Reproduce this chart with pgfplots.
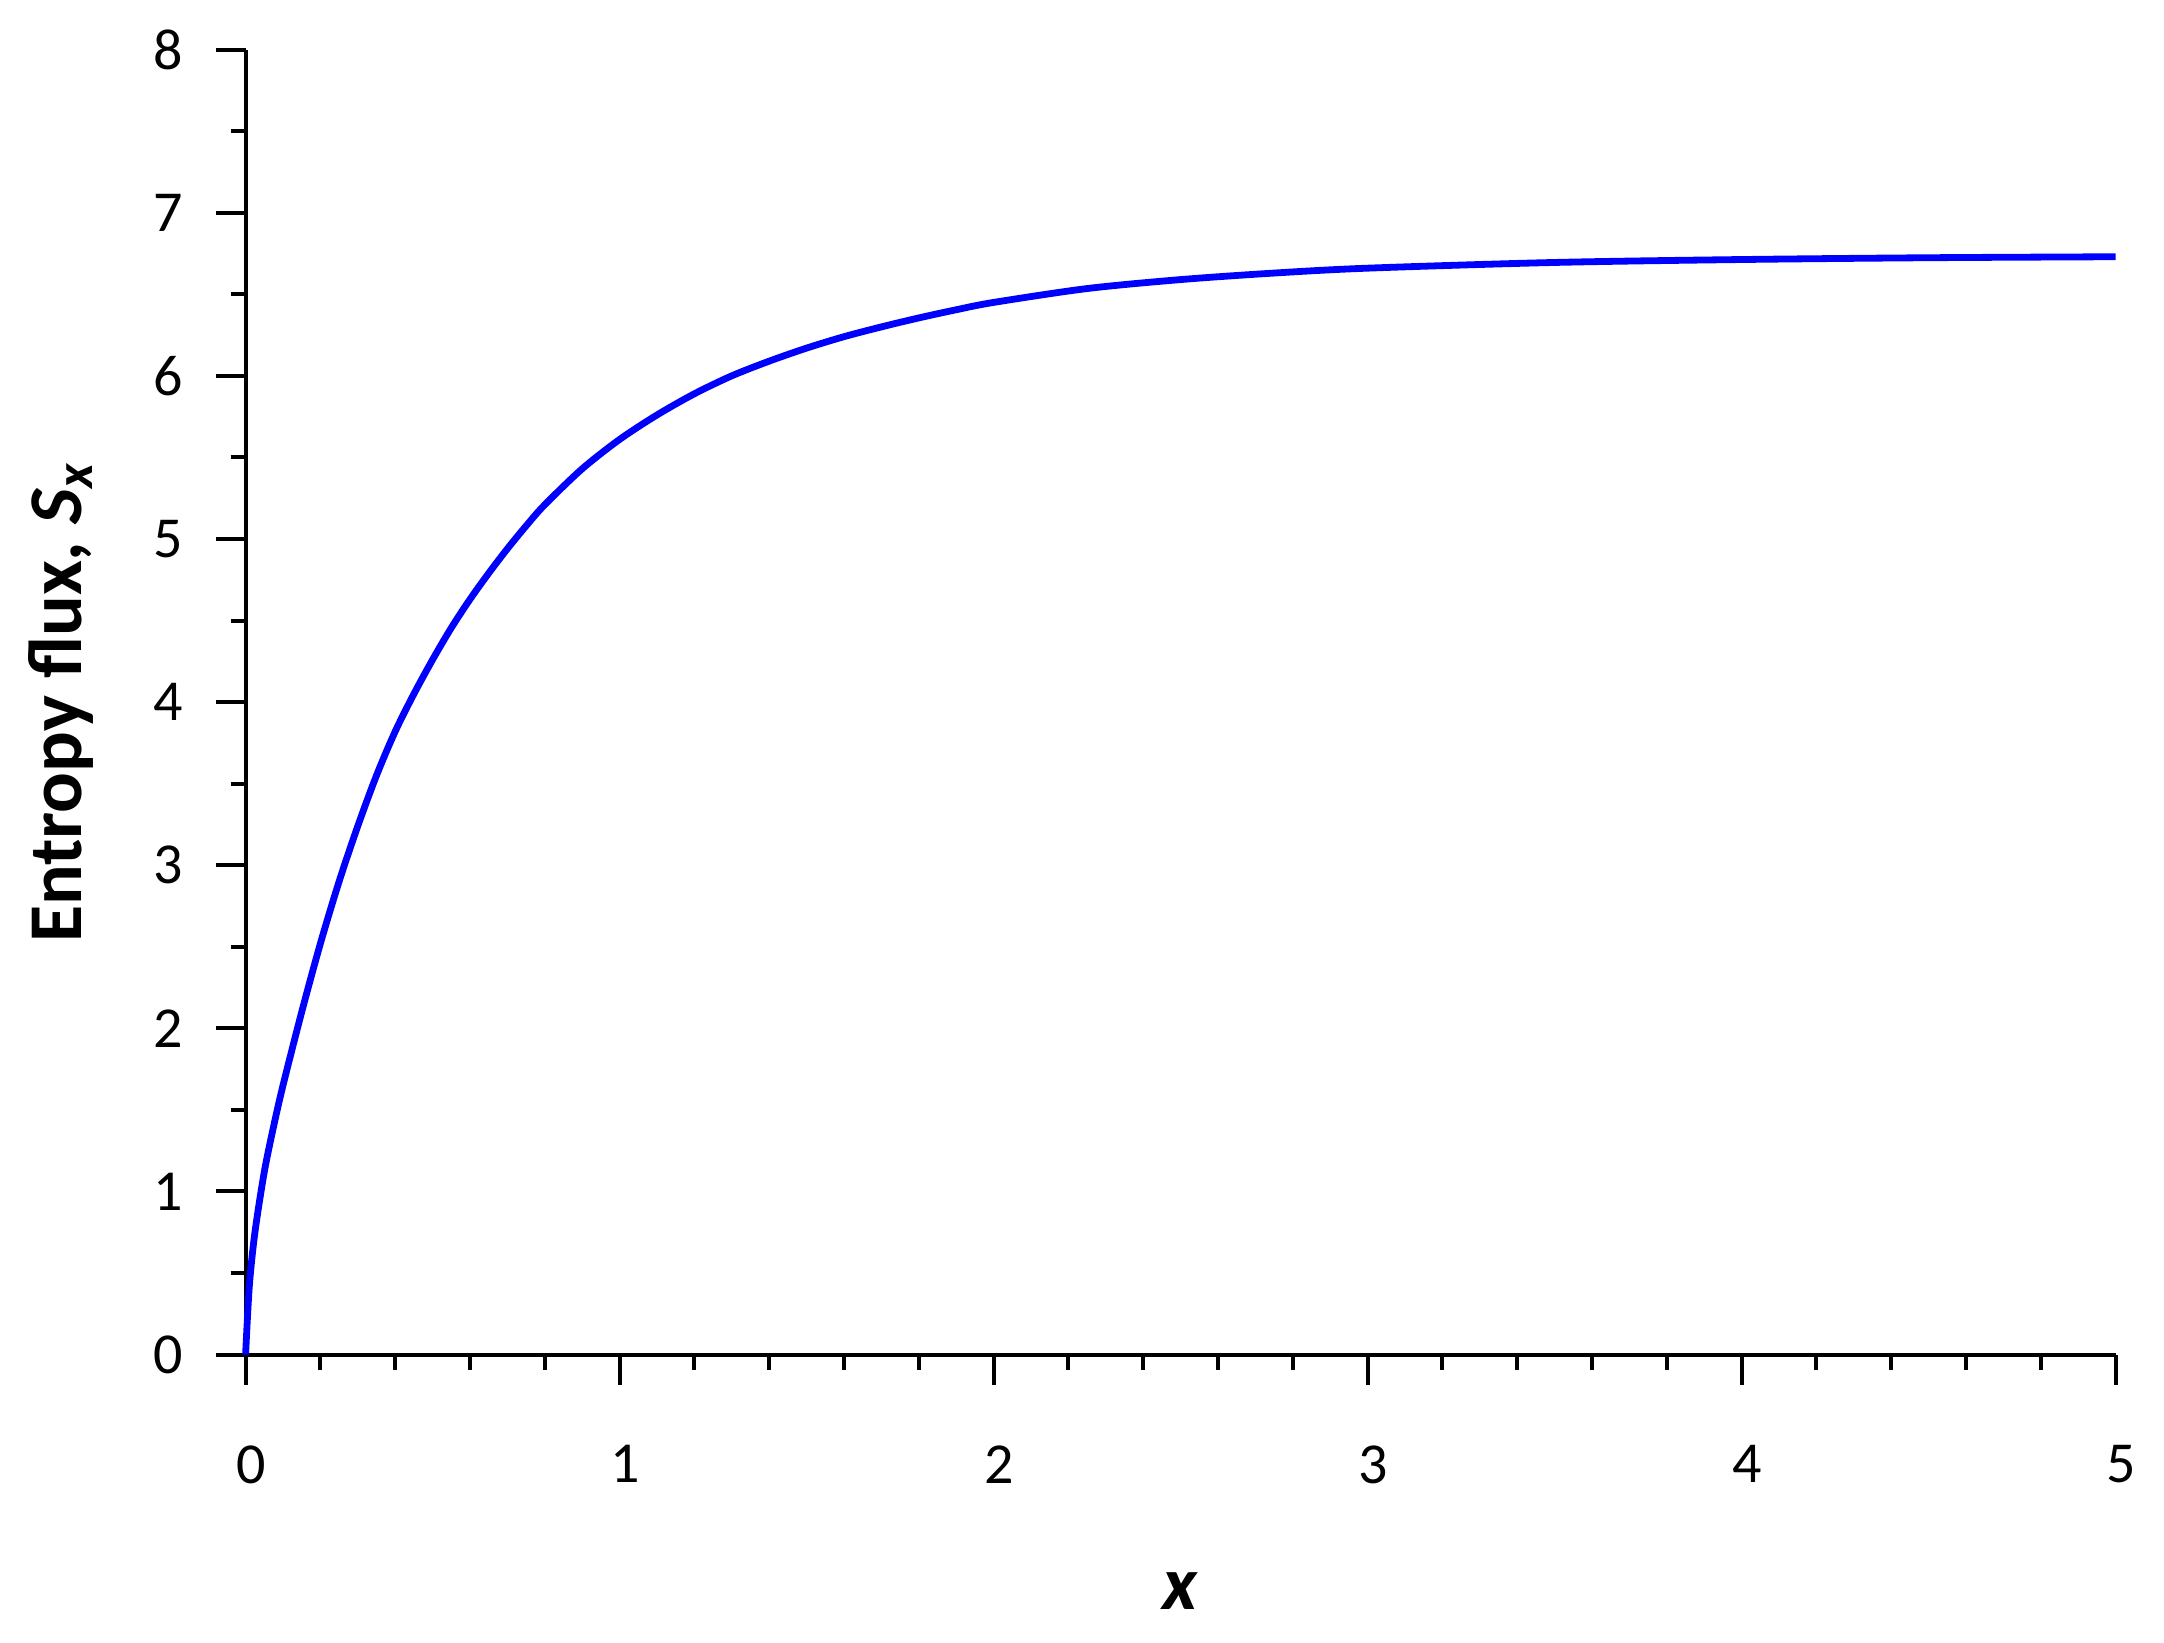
\documentclass[border=0pt]{standalone}
\usepackage{fontspec}
\setmainfont{Carlito}
\usepackage{pgfplots}
\pgfplotsset{compat=1.18}

\begin{document}
\begin{tikzpicture}
\begin{axis}[
  scale only axis,
  width=467.5pt, height=326.25pt,
  xmin=0, xmax=5, ymin=0, ymax=8,
  xtick={0,1,2,3,4,5}, ytick={0,1,...,8},
  minor x tick num=4, minor y tick num=1,
  axis x line=bottom, axis y line=left,
  axis line style={-, line width=1pt, black},
  tick align=outside,
  major tick length=7.5pt, minor tick length=3.75pt,
  every tick/.style={black, line width=1pt},
  /pgf/number format/assume math mode=true,
  ticklabel style={font=\fontsize{14.5}{17}\selectfont, inner sep=0pt},
  xticklabel style={anchor=north, yshift=-15pt, xshift=1.5pt},
  yticklabel style={anchor=east, xshift=-8pt},
  xlabel={\textbf{\textit{x}}},
  ylabel={\textbf{Entropy flux, \textit{S}\textsubscript{\textit{x}}}},
  label style={font=\fontsize{19}{22}\selectfont},
  xlabel style={at={(axis description cs:0.5,-0.1954)}, anchor=base},
  ylabel style={at={(axis description cs:-0.0875,0.5)}, anchor=base},
  clip=false,
]
\addplot[color={rgb,255:red,0;green,0;blue,255}, line width=1.7pt, smooth] coordinates {
  (0,0) (0.01,0.42) (0.025,0.75) (0.05,1.12) (0.075,1.40) (0.1,1.65)
  (0.15,2.10) (0.2,2.52) (0.25,2.90) (0.3,3.24) (0.35,3.55) (0.4,3.82)
  (0.45,4.05) (0.5,4.26) (0.55,4.455) (0.6,4.63) (0.65,4.79) (0.7,4.94)
  (0.75,5.08) (0.8,5.21) (0.9,5.43) (1.0,5.61) (1.1,5.76) (1.2,5.89)
  (1.3,6.00) (1.4,6.09) (1.5,6.17) (1.6,6.24) (1.7,6.30) (1.8,6.355)
  (1.9,6.405) (2.0,6.45) (2.25,6.535) (2.5,6.59) (2.75,6.63) (3.0,6.66)
  (3.5,6.695) (4.0,6.713) (4.5,6.724) (5.0,6.73)
};
\coordinate (sw) at (rel axis cs:0,0);
\coordinate (ne) at (rel axis cs:1,1);
\end{axis}
\path ([shift={(-61.4pt,-72pt)}]sw) rectangle ([shift={(12.1pt,12.4pt)}]ne);
\end{tikzpicture}
\end{document}
